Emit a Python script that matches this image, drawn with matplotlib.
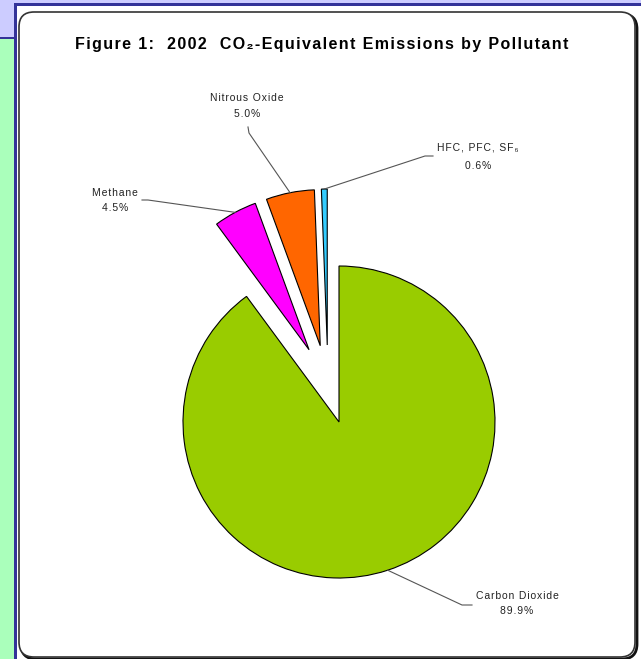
import numpy as np
import matplotlib
matplotlib.use('Agg')
import matplotlib.pyplot as plt
from matplotlib.patches import Rectangle, FancyBboxPatch

# data
pollutants = ['Carbon Dioxide', 'Methane', 'Nitrous Oxide', 'HFC, PFC, SF\u2086']
shares = [89.9, 4.5, 5.0, 0.6]
colors = ['#99cc00', '#ff00ff', '#ff6600', '#33ccff']

W, H = 641, 659
FONT = ['Liberation Sans Narrow', 'Liberation Sans', 'DejaVu Sans']


def spaced(s, sep='\u200a'):
    # imitate the wide letter spacing of the original
    return sep.join(s)


def Y(y):
    # image row -> axes y (y up)
    return H - y


fig = plt.figure(figsize=(W / 100, H / 100), dpi=100)
ax = fig.add_axes([0, 0, 1, 1])

# slide background
ax.add_patch(Rectangle((0, Y(4)), W, 4, fc='#ccccff', ec='none', zorder=0))
ax.add_patch(Rectangle((0, Y(38)), 15, 38, fc='#ccccff', ec='none', zorder=0))
ax.add_patch(Rectangle((0, 0), 15, Y(38), fc='#aaffbb', ec='none', zorder=0))
ax.add_patch(Rectangle((0, Y(39)), 15, 2, fc='#333399', ec='none', zorder=1))
ax.add_patch(Rectangle((14, 0), 3, Y(3), fc='#333399', ec='none', zorder=1))
ax.add_patch(Rectangle((14, Y(6)), W - 14, 3, fc='#333399', ec='none', zorder=1))

# chart panel with rounded corners and a small shadow
ax.add_patch(FancyBboxPatch((21, Y(659)), 616, 645, boxstyle='round,pad=0,rounding_size=15',
                            fc='none', ec='#111111', lw=2.0, zorder=1))
ax.add_patch(FancyBboxPatch((19, Y(657)), 616, 645, boxstyle='round,pad=0,rounding_size=15',
                            fc='white', ec='#333333', lw=1.2, zorder=2))

R = 156
main_center = (339, Y(422))
small_center = (328, Y(385))
pull = 40  # how far the small slices are pulled out (data units)

wedge_kw = dict(edgecolor='black', linewidth=0.8, zorder=3)

# carbon dioxide wedge stays in place
w_main, _ = ax.pie(shares, colors=colors, startangle=90, counterclock=False,
                   radius=R, center=main_center, wedgeprops=wedge_kw, frame=True)
# the three small wedges are pulled out
w_small, _ = ax.pie(shares, colors=colors, startangle=90, counterclock=False,
                    radius=R, center=small_center, explode=[0, pull, pull, pull],
                    wedgeprops=wedge_kw, frame=True)
for w in w_main[1:]:
    w.set_visible(False)
w_small[0].set_visible(False)
wedges = [w_main[0]] + list(w_small[1:])

ax.set_xlim(0, W)
ax.set_ylim(0, H)
ax.set_aspect('auto')
ax.axis('off')

# title
ax.text(322, Y(45), spaced('Figure 1:  2002  CO\u2082-Equivalent Emissions by Pollutant'),
        ha='center', va='center', fontsize=11.5, fontweight='bold', family=FONT, zorder=5)

# label layout: (name x, name y, pct y, leader start, leader elbow)
label_pos = [
    (517, 596, 611, (472, 605), (462, 605)),
    (115, 193, 208, (142, 200), (148, 200)),
    (247, 98, 114, (248, 127), (249, 133)),
    (478, 148, 166, (433, 156), (425, 156)),
]

for w, name, val, (lx, ny, py, p0, p1) in zip(wedges, pollutants, shares, label_pos):
    mid = np.deg2rad((w.theta1 + w.theta2) / 2)
    cx, cy = w.center
    ax_x = cx + w.r * np.cos(mid)
    ax_y = cy + w.r * np.sin(mid)
    ax.plot([p0[0], p1[0], ax_x], [Y(p0[1]), Y(p1[1]), ax_y], color='#555555', lw=0.8, zorder=4)
    ax.text(lx, Y(ny), spaced(name), ha='center', va='center', fontsize=7.5,
            family=FONT, color='#222222', zorder=5)
    ax.text(lx, Y(py), spaced(f'{val:.1f}%'), ha='center', va='center', fontsize=7.5,
            family=FONT, color='#222222', zorder=5)

fig.savefig('out.png', dpi=100)
